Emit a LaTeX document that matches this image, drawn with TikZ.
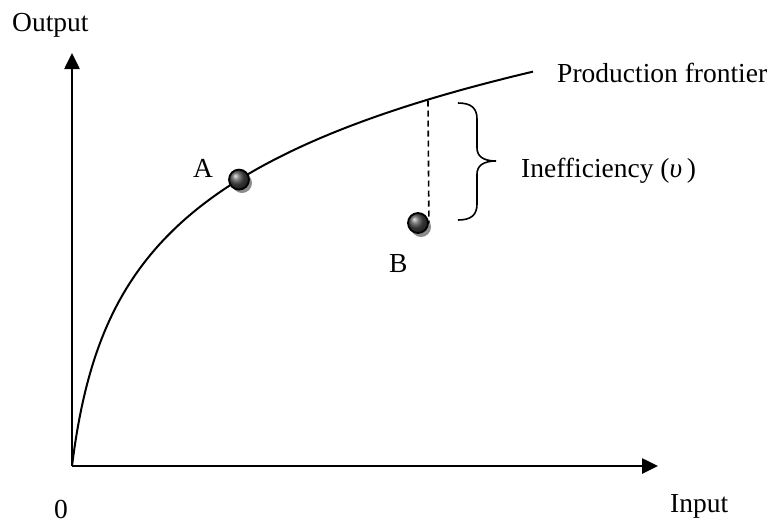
\documentclass[tikz,border=0pt]{standalone}
\usepackage{fontspec}
\setmainfont{Liberation Serif}
\usetikzlibrary{arrows.meta}
\begin{document}
\begin{tikzpicture}[x=1pt,y=-1pt,
  lbl/.style={font=\fontsize{27.5}{33}\selectfont, inner sep=0pt, anchor=base west},
  axisline/.style={line width=2.6pt, -{Triangle[length=16pt,width=15pt]}},
  frontier/.style={line width=2pt},
  shadowdot/.style={fill=black!45},
  ball/.style={circle, minimum size=20pt, inner sep=0pt, draw=black, line width=1.8pt, ball color=black!70},
  gap/.style={line width=1.6pt, dash pattern=on 6pt off 4pt},
  bracestyle/.style={line width=1.6pt}]
\useasboundingbox (0,0) rectangle (775,528);
% axes
\coordinate (O) at (72,466);
\coordinate (ytip) at (72,53);
\coordinate (xtip) at (658,466);
\draw[axisline] (O) -- (ytip);
\draw[axisline] (O) -- (xtip);
% frontier
\coordinate (F) at (428,100.5);
\draw[frontier] plot[domain=0:461, samples=200, smooth] ({72+\x}, {466-111.9*ln(1+\x/14)});
% points
\fill[shadowdot] (242,183) circle (10);
\node[ball] (A) at (239,179.6) {};
\fill[shadowdot] (421,227) circle (10);
\node[ball] (B) at (418,223) {};
% dashed gap
\draw[gap] (F) -- (B.east);
% brace
\draw[bracestyle] (458,103) .. controls (471,103) and (477,108) .. (477,119) -- (477,148) .. controls (477,156) and (483,161) .. (496,161) .. controls (483,161) and (477,166) .. (477,174) -- (477,204) .. controls (477,215) and (471,220) .. (458,220);
% labels
\node[lbl] (ylabel) at (12,31) {Output};
\node[lbl] (xlabel) at (670,512) {Input};
\node[lbl] (zero) at (54,518) {0};
\node[lbl] (Alabel) at (193,177) {A};
\node[lbl] (Blabel) at (389,272) {B};
\node[lbl] (pf) at (557,82) {Production frontier};
\node[lbl] (ineff) at (521,177) {Inefficiency ({\itshape υ}\,)};
\end{tikzpicture}
\end{document}
